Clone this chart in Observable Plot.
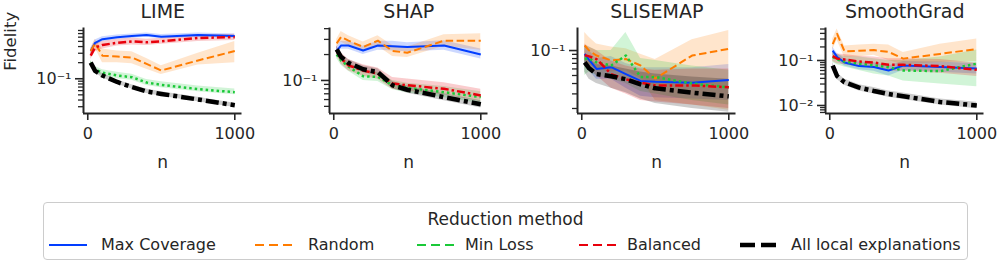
<!DOCTYPE html>
<html><head><meta charset="utf-8">
<script src="https://cdn.jsdelivr.net/npm/d3@7"></script>
<script src="https://cdn.jsdelivr.net/npm/@observablehq/plot@0.6"></script>
<style>
body{margin:0;background:#fff;}
#root{position:relative;width:997px;height:263px;overflow:hidden;font-family:"DejaVu Sans";color:#262626;background:#fff}
.panel{position:absolute;top:0}
.legend{position:absolute;left:43px;top:202px;width:925px;height:58px;border:1px solid #cccccc;border-radius:4px;box-sizing:border-box}
.ltitle{position:absolute;left:0;right:0;top:6px;text-align:center;font-size:17px;line-height:20px}
.litem{position:absolute;top:234px;font-size:16px;line-height:22px;white-space:nowrap}
.lhandle{position:absolute;top:235px}
</style></head><body><div id="root"></div>
<script>
// ---------- data ----------
const nValues = [20, 50, 100, 200, 300, 400, 500, 750, 1000];
const methods = ["Max Coverage", "Random", "Min Loss", "Balanced", "All local explanations"];
const panelTitles = ["LIME", "SHAP", "SLISEMAP", "SmoothGrad"];
const xTicks = [0, 1000];
const xTickLabels = ["0", "1000"];
const majorTicks = [[0.1], [0.1], [0.1], [0.01, 0.1]];
const majorLabels = [["10\u207B\u00B9"], ["10\u207B\u00B9"], ["10\u207B\u00B9"], ["10\u207B\u00B2", "10\u207B\u00B9"]];
const minorTicks = [0.007, 0.008, 0.009, 0.02, 0.03, 0.04, 0.05, 0.06, 0.07, 0.08, 0.09, 0.2, 0.3, 0.4, 0.5, 0.6, 0.7, 0.8, 0.9];

// rows: Max Coverage, Random, Min Loss, Balanced, All local explanations
const limeMean = [
  [0.33, 0.47, 0.55, 0.60, 0.63, 0.66, 0.61, 0.66, 0.63],
  [0.33, 0.46, 0.27, 0.26, 0.25, 0.19, 0.143, 0.22, 0.33],
  [0.20, 0.15, 0.13, 0.115, 0.107, 0.085, 0.077, 0.064, 0.056],
  [0.27, 0.385, 0.43, 0.47, 0.50, 0.48, 0.50, 0.58, 0.60],
  [0.20, 0.14, 0.115, 0.087, 0.070, 0.058, 0.052, 0.041, 0.032]
];
const limeLow = [
  [0.29, 0.41, 0.49, 0.54, 0.57, 0.60, 0.56, 0.60, 0.58],
  [0.29, 0.38, 0.20, 0.20, 0.19, 0.15, 0.12, 0.18, 0.20],
  [0.18, 0.13, 0.115, 0.10, 0.094, 0.075, 0.068, 0.057, 0.050],
  [0.23, 0.32, 0.36, 0.41, 0.43, 0.42, 0.44, 0.50, 0.52],
  [0.185, 0.128, 0.104, 0.079, 0.064, 0.053, 0.047, 0.037, 0.029]
];
const limeHigh = [
  [0.37, 0.53, 0.61, 0.66, 0.69, 0.72, 0.67, 0.72, 0.69],
  [0.37, 0.55, 0.36, 0.33, 0.32, 0.24, 0.175, 0.30, 0.50],
  [0.22, 0.17, 0.148, 0.132, 0.122, 0.097, 0.088, 0.073, 0.064],
  [0.31, 0.45, 0.50, 0.55, 0.58, 0.55, 0.57, 0.66, 0.68],
  [0.215, 0.152, 0.126, 0.095, 0.077, 0.064, 0.057, 0.045, 0.035]
];

const shapMean = [
  [0.22, 0.255, 0.255, 0.223, 0.255, 0.25, 0.245, 0.255, 0.20],
  [0.27, 0.32, 0.29, 0.245, 0.29, 0.22, 0.21, 0.29, 0.29],
  [0.20, 0.17, 0.145, 0.112, 0.11, 0.088, 0.082, 0.073, 0.064],
  [0.22, 0.18, 0.15, 0.13, 0.12, 0.092, 0.088, 0.080, 0.067],
  [0.23, 0.187, 0.16, 0.135, 0.125, 0.088, 0.078, 0.064, 0.053]
];
const shapLow = [
  [0.20, 0.23, 0.23, 0.20, 0.225, 0.22, 0.215, 0.225, 0.178],
  [0.24, 0.28, 0.25, 0.215, 0.25, 0.19, 0.185, 0.25, 0.225],
  [0.18, 0.15, 0.128, 0.10, 0.097, 0.078, 0.072, 0.063, 0.054],
  [0.195, 0.155, 0.13, 0.112, 0.103, 0.079, 0.075, 0.068, 0.057],
  [0.21, 0.17, 0.145, 0.123, 0.114, 0.080, 0.071, 0.058, 0.048]
];
const shapHigh = [
  [0.245, 0.285, 0.285, 0.25, 0.285, 0.285, 0.275, 0.29, 0.232],
  [0.30, 0.37, 0.33, 0.28, 0.33, 0.255, 0.245, 0.34, 0.35],
  [0.22, 0.19, 0.163, 0.126, 0.124, 0.10, 0.093, 0.085, 0.074],
  [0.25, 0.21, 0.175, 0.152, 0.14, 0.108, 0.104, 0.094, 0.079],
  [0.25, 0.205, 0.175, 0.148, 0.137, 0.097, 0.086, 0.070, 0.058]
];

const slisemapMean = [
  [0.091, 0.077, 0.060, 0.063, 0.052, 0.043, 0.042, 0.041, 0.044],
  [0.115, 0.10, 0.087, 0.076, 0.079, 0.066, 0.046, 0.087, 0.105],
  [0.079, 0.080, 0.072, 0.066, 0.087, 0.048, 0.048, 0.040, 0.036],
  [0.088, 0.085, 0.079, 0.052, 0.045, 0.041, 0.038, 0.038, 0.036],
  [0.072, 0.061, 0.052, 0.049, 0.045, 0.039, 0.035, 0.031, 0.028]
];
const slisemapLow = [
  [0.070, 0.058, 0.045, 0.045, 0.035, 0.028, 0.027, 0.026, 0.025],
  [0.075, 0.068, 0.060, 0.055, 0.057, 0.046, 0.025, 0.022, 0.019],
  [0.050, 0.055, 0.050, 0.045, 0.040, 0.032, 0.030, 0.025, 0.022],
  [0.065, 0.060, 0.050, 0.035, 0.030, 0.025, 0.024, 0.022, 0.020],
  [0.055, 0.045, 0.040, 0.035, 0.031, 0.026, 0.023, 0.020, 0.018]
];
const slisemapHigh = [
  [0.115, 0.10, 0.080, 0.085, 0.070, 0.062, 0.062, 0.062, 0.068],
  [0.165, 0.145, 0.12, 0.11, 0.105, 0.090, 0.078, 0.135, 0.175],
  [0.115, 0.11, 0.10, 0.10, 0.165, 0.080, 0.076, 0.065, 0.058],
  [0.12, 0.11, 0.10, 0.075, 0.065, 0.060, 0.058, 0.060, 0.060],
  [0.090, 0.080, 0.068, 0.065, 0.060, 0.055, 0.052, 0.048, 0.045]
];

const smoothgradMean = [
  [0.165, 0.12, 0.09, 0.075, 0.072, 0.060, 0.077, 0.072, 0.066],
  [0.23, 0.39, 0.16, 0.165, 0.17, 0.155, 0.11, 0.14, 0.18],
  [0.12, 0.105, 0.095, 0.085, 0.078, 0.071, 0.060, 0.058, 0.085],
  [0.125, 0.11, 0.105, 0.095, 0.09, 0.080, 0.080, 0.075, 0.062],
  [0.077, 0.045, 0.033, 0.025, 0.021, 0.018, 0.016, 0.012, 0.010]
];
const smoothgradLow = [
  [0.13, 0.10, 0.075, 0.062, 0.058, 0.045, 0.060, 0.055, 0.050],
  [0.17, 0.28, 0.12, 0.12, 0.13, 0.10, 0.080, 0.090, 0.095],
  [0.09, 0.08, 0.072, 0.060, 0.050, 0.045, 0.035, 0.030, 0.026],
  [0.095, 0.085, 0.080, 0.072, 0.068, 0.058, 0.058, 0.052, 0.044],
  [0.066, 0.038, 0.028, 0.021, 0.018, 0.0153, 0.0136, 0.0102, 0.0085]
];
const smoothgradHigh = [
  [0.20, 0.145, 0.11, 0.092, 0.09, 0.075, 0.095, 0.092, 0.085],
  [0.30, 0.50, 0.21, 0.22, 0.23, 0.22, 0.15, 0.23, 0.30],
  [0.155, 0.135, 0.125, 0.12, 0.11, 0.10, 0.10, 0.12, 0.17],
  [0.16, 0.14, 0.135, 0.125, 0.12, 0.11, 0.11, 0.105, 0.088],
  [0.09, 0.053, 0.039, 0.029, 0.025, 0.021, 0.019, 0.014, 0.0118]
];

// ---------- styles / layout ----------
const colors = ["#023eff", "#ff7c00", "#1ac938", "#e8000b", "#000000"];
const widths = [2, 2, 2.5, 2.5, 4.5];
const dashes = ["none", "7.5,3.5", "2.5,3", "8,3,2.5,3", "13,4,4,4"];
const legendDashes = ["none", "9,5", "9,5", "9,5", "15,6"];
const legendWidths = [2.2, 2.2, 2.2, 2.2, 4.5];
const xDomain = [-29, 1049];
const yDomains = [[0.0224, 0.89], [0.0413, 0.407], [0.0174, 0.187], [0.00664, 0.527]];
const frameLefts = [82.7, 329.2, 576.8, 824.7];
const frameWidth = 158.5, frameTop = 27.5, frameBottom = 113;
const mL = 80, mR = 12, H = 180;

const allMeans = [limeMean, shapMean, slisemapMean, smoothgradMean];
const allLows = [limeLow, shapLow, slisemapLow, smoothgradLow];
const allHighs = [limeHigh, shapHigh, slisemapHigh, smoothgradHigh];

const root = document.getElementById("root");

panelTitles.forEach((title, p) => {
  const rows = allMeans[p].map((arr, i) => arr.map((v, j) => ({
    n: nValues[j], v, lo: allLows[p][i][j], hi: allHighs[p][i][j]
  })));
  const dom = yDomains[p];
  const minors = minorTicks.filter(t => t > dom[0] && t < dom[1]);
  const labelOf = d => majorLabels[p][majorTicks[p].indexOf(d)];
  const xLabelOf = d => xTickLabels[xTicks.indexOf(d)];
  const marks = [];
  rows.forEach((r, i) => marks.push(Plot.areaY(r, {x: "n", y1: "lo", y2: "hi", fill: colors[i], fillOpacity: 0.2, curve: "linear"})));
  rows.forEach((r, i) => marks.push(Plot.lineY(r, {x: "n", y: "v", stroke: colors[i], strokeWidth: widths[i],
    strokeDasharray: dashes[i], strokeLinecap: "butt", strokeLinejoin: "round"})));
  marks.push(
    Plot.axisY(minors, {tickSize: 5, tickFormat: () => "", strokeWidth: 1.3, label: null}),
    Plot.axisY(majorTicks[p], {tickSize: 8, tickPadding: 4, tickFormat: labelOf, fontSize: 16, strokeWidth: 1.6, label: null}),
    Plot.axisX(xTicks, {tickSize: 7, tickPadding: 7, tickFormat: xLabelOf, fontSize: 16, strokeWidth: 1.6, label: null}),
    Plot.ruleY([dom[0]], {stroke: "#262626", strokeWidth: 2}),
    Plot.ruleX([xDomain[0]], {stroke: "#262626", strokeWidth: 2}),
    Plot.text([title], {frameAnchor: "top", dy: -10, lineAnchor: "bottom", fontSize: 19}),
    Plot.text(["n"], {frameAnchor: "bottom", dy: 54, lineAnchor: "bottom", fontSize: 17})
  );
  if (p === 0) marks.push(Plot.text(["Fidelity"], {frameAnchor: "left", dx: -73, rotate: -90, fontSize: 16.5}));
  const svg = Plot.plot({
    width: mL + frameWidth + mR, height: H,
    marginLeft: mL, marginRight: mR, marginTop: frameTop, marginBottom: H - frameBottom,
    x: {domain: xDomain, label: null},
    y: {type: "log", domain: dom, label: null},
    style: {fontFamily: "'DejaVu Sans'", fontSize: "16px", color: "#262626", background: "none", overflow: "visible"},
    marks
  });
  svg.classList.add("panel");
  svg.style.left = (frameLefts[p] - mL) + "px";
  svg.style.position = "absolute";
  svg.style.top = "0px";
  root.appendChild(svg);
});

// ---------- legend ----------
const legendBox = document.createElement("div");
legendBox.className = "legend";
const lt = document.createElement("div");
lt.className = "ltitle";
lt.textContent = "Reduction method";
legendBox.appendChild(lt);
root.appendChild(legendBox);
const handleX = [49, 255, 417, 579, 740];
const textX = [101, 308, 465, 627, 791];
methods.forEach((m, i) => {
  const ns = "http://www.w3.org/2000/svg";
  const s = document.createElementNS(ns, "svg");
  s.setAttribute("width", 40); s.setAttribute("height", 20);
  s.setAttribute("class", "lhandle");
  s.style.left = handleX[i] + "px";
  const ln = document.createElementNS(ns, "line");
  ln.setAttribute("x1", 0); ln.setAttribute("x2", 38); ln.setAttribute("y1", 10); ln.setAttribute("y2", 10);
  ln.setAttribute("stroke", colors[i]); ln.setAttribute("stroke-width", legendWidths[i]);
  if (legendDashes[i] !== "none") ln.setAttribute("stroke-dasharray", legendDashes[i]);
  s.appendChild(ln);
  root.appendChild(s);
  const t = document.createElement("div");
  t.className = "litem";
  t.style.left = textX[i] + "px";
  t.textContent = m;
  root.appendChild(t);
});
</script>
</body></html>
